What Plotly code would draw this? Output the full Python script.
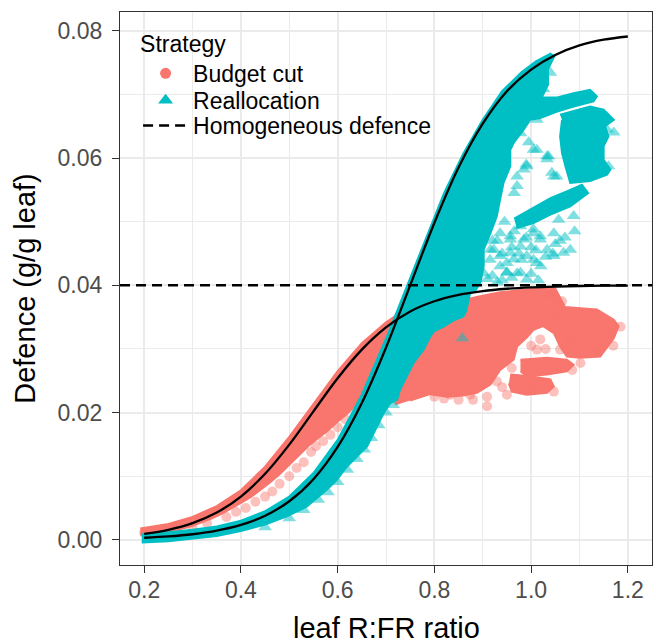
import plotly.graph_objects as go

# ---------------- data ----------------
CURVE_X = [0.20, 0.25, 0.30, 0.35, 0.40, 0.45, 0.50, 0.55, 0.60, 0.65, 0.70,
           0.75, 0.80, 0.85, 0.90, 0.95, 1.00, 1.05, 1.10, 1.15, 1.20]
BUDGET_CURVE = [0.00094, 0.00158, 0.00263, 0.00429, 0.00681, 0.01038, 0.01497,
                0.0202, 0.0254, 0.0299, 0.0334, 0.0359, 0.0375, 0.0385, 0.0391,
                0.03946, 0.03968, 0.03981, 0.03989, 0.03994, 0.03996]
REALLOC_CURVE = [0.00033, 0.00054, 0.00088, 0.00144, 0.00234, 0.00379, 0.00607,
                 0.00954, 0.0146, 0.0215, 0.0302, 0.0400, 0.0498, 0.0585, 0.0654,
                 0.0705, 0.0739, 0.0762, 0.0777, 0.0786, 0.0791]
HOMOGENEOUS_DEFENCE = 0.04

# Budget cut: dense band along its curve (outline)
BUDGET_BAND_X = [0.192, 0.25, 0.30, 0.35, 0.40, 0.45, 0.50, 0.55, 0.60, 0.65, 0.70, 0.72, 0.745,
                 0.745, 0.70, 0.66, 0.635, 0.62, 0.60, 0.58, 0.56, 0.54, 0.52, 0.50, 0.48, 0.46,
                 0.44, 0.42, 0.40, 0.38, 0.36, 0.34, 0.32, 0.30, 0.27, 0.24, 0.21, 0.192]
BUDGET_BAND_Y = [0.0018, 0.0025, 0.0036, 0.0053, 0.0078, 0.0115, 0.0162, 0.0213, 0.0265, 0.0309, 0.0342, 0.0352, 0.0365,
                 0.0300, 0.0260, 0.0225, 0.0210, 0.0198, 0.0186, 0.0172, 0.0160, 0.0148, 0.0133, 0.0118, 0.0103, 0.0090,
                 0.0078, 0.0067, 0.0058, 0.0049, 0.0041, 0.0034, 0.0028, 0.0022, 0.0016, 0.0011, 0.0008, 0.0008]
# Budget cut: dense cloud right of the crossing (outline)
BUDGET_CLOUD_X = [0.720, 0.735, 0.760, 0.790, 0.830, 0.865, 0.895, 0.936, 0.985, 1.030, 1.050, 1.060,
                  1.070, 1.102, 1.136, 1.171, 1.181, 1.171, 1.157, 1.143, 1.102, 1.074, 1.060, 1.047,
                  1.025, 1.005, 0.991, 0.971, 0.964, 0.936, 0.916, 0.888, 0.860, 0.826, 0.791, 0.750]
BUDGET_CLOUD_Y = [0.0212, 0.0260, 0.0300, 0.0330, 0.0355, 0.0378, 0.0383, 0.0389, 0.0393, 0.0396, 0.0395, 0.0380,
                  0.0366, 0.0364, 0.0362, 0.0346, 0.0336, 0.0317, 0.0302, 0.0288, 0.0286, 0.0288, 0.0304, 0.0325,
                  0.0336, 0.0330, 0.0318, 0.0304, 0.0283, 0.0267, 0.0244, 0.0231, 0.0227, 0.0225, 0.0229, 0.0219]
# Budget cut: two lower patches
BUDGET_PATCH_X = [0.978, 1.033, 1.074, 1.088, 1.074, 1.033, 0.991, 0.978, None,
                  0.957, 0.998, 1.040, 1.047, 1.033, 0.991, 0.960, 0.954]
BUDGET_PATCH_Y = [0.0283, 0.0286, 0.0283, 0.0275, 0.0265, 0.0260, 0.0257, 0.0265, None,
                  0.0260, 0.0257, 0.0252, 0.0241, 0.0231, 0.0228, 0.0233, 0.0246]
# Budget cut: individual scattered points
BUDGET_PTS_X = [1.064, 1.040, 1.012, 1.019, 1.060, 0.909, 0.909, 0.929, 0.874, 0.833, 0.723, 0.950,
                1.005, 1.047, 1.085, 1.136, 1.164, 1.102, 0.880, 0.850, 0.820, 0.800, 0.940, 0.960,
                1.000, 1.030, 1.080, 1.170, 1.185, 1.050,
                0.370, 0.390, 0.410, 0.430, 0.450, 0.465, 0.480, 0.500, 0.515, 0.530, 0.545, 0.555,
                0.570, 0.585, 0.600, 0.615, 0.250, 0.300, 0.330, 0.200]
BUDGET_PTS_Y = [0.0375, 0.0385, 0.0299, 0.0315, 0.0299, 0.0225, 0.0210, 0.0249, 0.0228, 0.0228, 0.0220, 0.0228,
                0.0236, 0.0233, 0.0267, 0.0294, 0.0325, 0.0278, 0.0220, 0.0220, 0.0222, 0.0225, 0.0240, 0.0270,
                0.0305, 0.0300, 0.0312, 0.0305, 0.0335, 0.0350,
                0.0036, 0.0044, 0.0050, 0.0060, 0.0068, 0.0076, 0.0088, 0.0100, 0.0113, 0.0122, 0.0138, 0.0147,
                0.0155, 0.0165, 0.0177, 0.0190, 0.0012, 0.0019, 0.0026, 0.0011]

# Reallocation: main dense mass (outline)
REALLOC_MASS_X = [0.195, 0.25, 0.30, 0.35, 0.40, 0.45, 0.50, 0.55, 0.60, 0.65, 0.70, 0.74, 0.78, 0.82,
                  0.86, 0.90, 0.94, 0.98, 1.01, 1.04,
                  1.048, 1.035, 1.035, 1.022, 1.054, 1.088, 1.122, 1.136, 1.129, 1.088, 1.054, 1.019,
                  0.998, 0.985, 0.965, 0.957, 0.957, 0.943, 0.936, 0.929, 0.916, 0.902, 0.902, 0.895,
                  0.885,
                  0.874, 0.866, 0.860, 0.840, 0.819, 0.800, 0.792, 0.778, 0.757, 0.743, 0.729, 0.723,
                  0.709, 0.695, 0.674, 0.661, 0.640, 0.619, 0.598, 0.578, 0.536, 0.495, 0.45, 0.40,
                  0.35, 0.30, 0.25, 0.195]
REALLOC_MASS_Y = [0.0009, 0.0012, 0.0016, 0.0021, 0.0030, 0.0045, 0.0068, 0.0105, 0.0157, 0.0228, 0.0316,
                  0.0392, 0.0470, 0.0545, 0.0607, 0.0660, 0.0705, 0.0735, 0.0752, 0.0764,
                  0.0760, 0.0740, 0.0715, 0.0695, 0.0695, 0.0702, 0.0707, 0.0697, 0.0689, 0.0681, 0.0673,
                  0.0663, 0.0660, 0.0645, 0.0625, 0.0613, 0.0587, 0.0561, 0.0535, 0.0508, 0.0482, 0.0456,
                  0.0430, 0.0404, 0.0392,
                  0.0388, 0.0360, 0.0351, 0.0345, 0.0335, 0.0328, 0.0320, 0.0299, 0.0278, 0.0257,
                  0.0236, 0.0220, 0.0215, 0.0199, 0.0168, 0.0147, 0.0131, 0.0115, 0.0094, 0.0079, 0.0052,
                  0.0037, 0.0024, 0.0014, 0.0006, 0.0002, -0.0002, -0.0004]
# Reallocation: right cluster and lower arm
REALLOC_CLUSTER_X = [1.060, 1.095, 1.122, 1.150, 1.171, 1.153, 1.160, 1.150, 1.150, 1.164, 1.157,
                     1.122, 1.081, 1.071, 1.064, 1.060, 1.064, None,
                     0.965, 0.991, 1.040, 1.081, 1.105, 1.118, 1.081, 1.040, 1.005, 0.970]
REALLOC_CLUSTER_Y = [0.0668, 0.0676, 0.0681, 0.0676, 0.0660, 0.0650, 0.0634, 0.0619, 0.0597, 0.0582, 0.0574,
                     0.0564, 0.0561, 0.0587, 0.0608, 0.0634, 0.0660, None,
                     0.0505, 0.0516, 0.0537, 0.0550, 0.0558, 0.0545, 0.0524, 0.0511, 0.0498, 0.0490]
# Reallocation: individual scattered points
REALLOC_PTS_X = [1.026, 1.033, 1.043, 1.053, 0.957, 0.985, 1.019, 1.047, 1.067, 0.936, 0.957, 0.971,
                 0.991, 1.005, 1.033, 1.081, 0.923, 0.902, 1.171, 1.160, 1.012, 1.033, 1.040, 0.978,
                 1.005, 1.057, 1.088, 0.858,
                 0.45, 0.50, 0.53, 0.56, 0.58, 0.60, 0.62, 0.64, 0.655, 0.67, 0.685, 0.70, 0.715,
                 0.995, 0.990, 0.965, 0.945, 0.920, 0.915, 0.910, 0.950, 0.980, 1.000, 1.020, 1.060,
                 1.045, 0.930,
                 0.930, 0.940, 0.950, 0.960, 0.965, 0.975, 0.990, 1.010, 1.030, 1.050, 1.070, 1.090,
                 0.920, 0.940, 0.960, 1.000, 1.015,
                 0.936, 0.957, 0.978, 1.005, 1.019, 1.047, 0.936, 0.964, 0.991, 1.012, 0.916, 0.950,
                 0.978, 0.978, 1.005, 0.991, 0.971, 1.033, 1.047, 1.012, 1.036, 0.985, 0.971, 1.157]
REALLOC_PTS_Y = [0.0708, 0.0603, 0.0577, 0.0571, 0.0477, 0.0472, 0.0477, 0.0482, 0.0451, 0.0430, 0.0451,
                 0.0419, 0.0409, 0.0440, 0.0456, 0.0456, 0.0456, 0.0419, 0.0640, 0.0587, 0.0660, 0.0676,
                 0.0734, 0.0493, 0.0488, 0.0503, 0.0509, 0.0317,
                 0.0020, 0.0034, 0.0047, 0.0063, 0.0075, 0.0091, 0.0110, 0.0127, 0.0142, 0.0160, 0.0180,
                 0.0200, 0.0212,
                 0.0625, 0.0590, 0.0545, 0.0500, 0.0470, 0.0440, 0.0410, 0.0420, 0.0440, 0.0460, 0.0430,
                 0.0470, 0.0450, 0.0405,
                 0.0470, 0.0450, 0.0435, 0.0460, 0.0485, 0.0450, 0.0475, 0.0455, 0.0445, 0.0465, 0.0475,
                 0.0485, 0.0415, 0.0408, 0.0412, 0.0418, 0.0408,
                 0.0482, 0.0472, 0.0461, 0.0482, 0.0472, 0.0446, 0.0446, 0.0441, 0.0446, 0.0435, 0.0456, 0.0420,
                 0.0420, 0.0639, 0.0613, 0.0587, 0.0571, 0.0598, 0.0571, 0.0613, 0.0603, 0.0582, 0.0556, 0.0645]

X_TICKS = [0.2, 0.4, 0.6, 0.8, 1.0, 1.2]
Y_TICKS = [0.00, 0.02, 0.04, 0.06, 0.08]
X_RANGE = [0.15, 1.25]
Y_RANGE = [-0.00395, 0.08295]
X_TITLE = "leaf R:FR ratio"
Y_TITLE = "Defence (g/g leaf)"

# ---------------- styles ----------------
RED = "#F8766D"
TEAL = "#00BFC4"
RED_A = "rgba(248,118,109,0.45)"
TEAL_A = "rgba(0,191,196,0.5)"
FONT = "Liberation Sans, Arial, Helvetica, sans-serif"

fig = go.Figure()


def poly(xs, ys, color):
    fig.add_trace(go.Scatter(x=xs, y=ys, mode="lines", fill="toself", fillcolor=color,
                             line=dict(color=color, width=2), showlegend=False,
                             hoverinfo="skip"))


# budget cut (drawn first)
poly(BUDGET_BAND_X, BUDGET_BAND_Y, RED)
poly(BUDGET_CLOUD_X, BUDGET_CLOUD_Y, RED)
poly(BUDGET_PATCH_X, BUDGET_PATCH_Y, RED)
fig.add_trace(go.Scatter(x=BUDGET_PTS_X, y=BUDGET_PTS_Y, mode="markers",
                         marker=dict(symbol="circle", size=10, color=RED_A, line=dict(width=0)),
                         showlegend=False, hoverinfo="skip"))
# reallocation (on top)
poly(REALLOC_MASS_X, REALLOC_MASS_Y, TEAL)
poly(REALLOC_CLUSTER_X, REALLOC_CLUSTER_Y, TEAL)
fig.add_trace(go.Scatter(x=REALLOC_PTS_X, y=REALLOC_PTS_Y, mode="markers",
                         marker=dict(symbol="triangle-up", size=12, color=TEAL_A, line=dict(width=0)),
                         showlegend=False, hoverinfo="skip"))

# fitted curves
fig.add_trace(go.Scatter(x=CURVE_X, y=BUDGET_CURVE, mode="lines", line=dict(color="black", width=2.3, shape="spline"),
                         showlegend=False, hoverinfo="skip"))
fig.add_trace(go.Scatter(x=CURVE_X, y=REALLOC_CURVE, mode="lines", line=dict(color="black", width=2.3, shape="spline"),
                         showlegend=False, hoverinfo="skip"))

# legend entries (one legend box per entry for ggplot-like tight spacing)
fig.add_trace(go.Scatter(x=[None], y=[None], mode="markers", name="Budget cut", legend="legend",
                         marker=dict(symbol="circle", size=11, color=RED)))
fig.add_trace(go.Scatter(x=[None], y=[None], mode="markers", name="Reallocation", legend="legend2",
                         marker=dict(symbol="triangle-up", size=13, color=TEAL)))
# homogeneous defence
fig.add_trace(go.Scatter(x=X_RANGE, y=[HOMOGENEOUS_DEFENCE, HOMOGENEOUS_DEFENCE], mode="lines",
                         name="Homogeneous defence", legend="legend3",
                         line=dict(color="black", width=2.4, dash="10px,6px"), hoverinfo="skip"))

axis_common = dict(
    showgrid=True, gridcolor="#EBEBEB", gridwidth=1.6, zeroline=False, automargin=False,
    showline=True, linecolor="#333333", linewidth=1.3, mirror=True,
    ticks="outside", ticklen=7, tickwidth=1.3, tickcolor="#333333",
    tickfont=dict(family=FONT, size=23, color="#4D4D4D"),
)

LEG_X = 0.034
leg_common = dict(x=LEG_X, xanchor="left", yanchor="top", bgcolor="rgba(0,0,0,0)",
                  font=dict(family=FONT, size=23, color="black"), itemwidth=45,
                  borderwidth=0)

fig.update_layout(
    width=656, height=643,
    margin=dict(l=120, r=4, t=12, b=78),
    paper_bgcolor="white", plot_bgcolor="white",
    font=dict(family=FONT, color="black"),
    xaxis=dict(range=X_RANGE, tickvals=X_TICKS, ticktext=[f"{v:.1f}" for v in X_TICKS],
               minor=dict(dtick=0.1, tick0=0.2, showgrid=True, gridcolor="#EBEBEB", gridwidth=0.9, ticks=""),
               ticklabelstandoff=-3, **axis_common),
    yaxis=dict(range=Y_RANGE, tickvals=Y_TICKS, ticktext=[f"{v:.2f}" for v in Y_TICKS],
               minor=dict(dtick=0.01, tick0=0.0, showgrid=True, gridcolor="#EBEBEB", gridwidth=0.9, ticks=""),
               title=dict(text=Y_TITLE, font=dict(family=FONT, size=29, color="black"), standoff=13),
               ticklabelstandoff=5, **axis_common),
    legend=dict(y=0.982, title=dict(text="Strategy", font=dict(family=FONT, size=23, color="black")),
                **leg_common),
    legend2=dict(y=0.879, **leg_common),
    legend3=dict(y=0.8336, **leg_common),
    annotations=[dict(text=X_TITLE, xref="paper", yref="paper", x=0.5, y=-0.1145,
                      xanchor="center", yanchor="middle", showarrow=False,
                      font=dict(family=FONT, size=29, color="black"))],
)

fig.write_html("out.html", config={"displayModeBar": False},
               post_script="document.body.style.margin='0px';document.body.style.overflow='hidden';")
